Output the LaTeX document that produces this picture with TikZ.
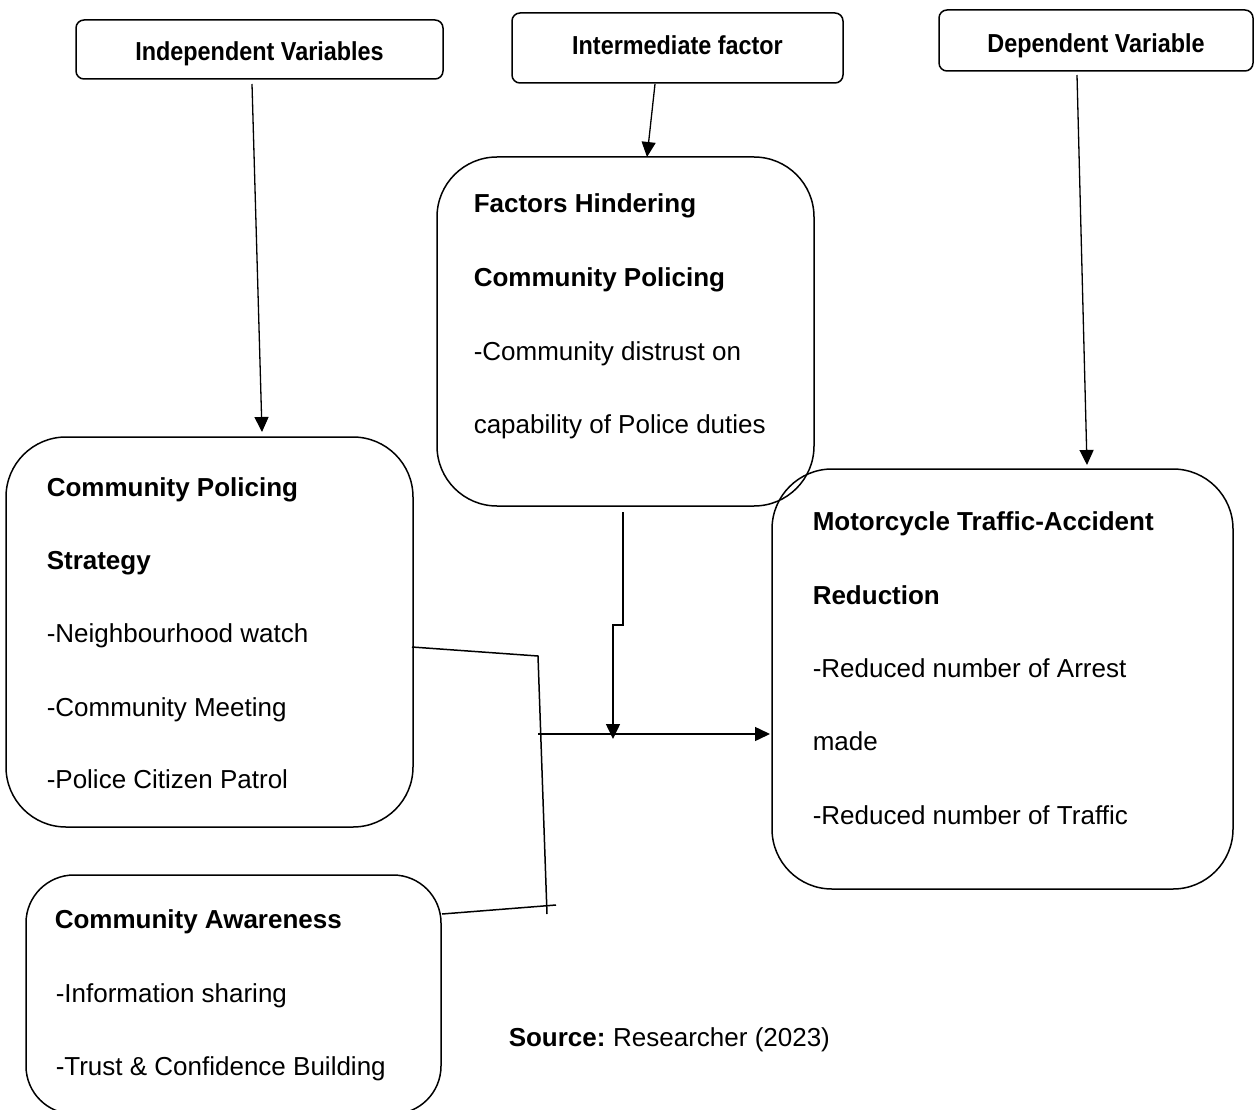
\documentclass[tikz,border=0pt]{standalone}
\usepackage{fontspec}
\setmainfont{Liberation Sans}
\usetikzlibrary{arrows.meta}
\begin{document}
\begin{tikzpicture}[x=1pt,y=-1pt,
  line width=1.5pt,
  titlebox/.style={draw,rounded corners=8pt},
  bigbox/.style={draw,rounded corners=60pt},
  txt/.style={anchor=base west,inner sep=0pt,font=\fontsize{26}{31}\selectfont},
  btxt/.style={txt,font=\fontsize{26}{31}\selectfont\bfseries},
  ttl/.style={anchor=base,inner sep=0pt,font=\fontsize{26}{31}\selectfont\bfseries},
  arr/.style={-{Triangle[length=15pt,width=14pt]}},
  thin/.style={line width=1.3pt}]
\useasboundingbox (0,0) rectangle (1255,1110);
\clip (0,0) rectangle (1255,1110);
\fill[white] (0,0) rectangle (1255,1110);

% title boxes
\draw[titlebox] (76,20) rectangle (443,79);
\node[ttl] (tind) at (259.5,61) {\scalebox{0.9}[1]{Independent Variables}};
\draw[titlebox] (512,13) rectangle (843,83);
\node[ttl] (tint) at (677.5,55) {\scalebox{0.9}[1]{Intermediate factor}};
\draw[titlebox] (939,10) rectangle (1253,71);
\node[ttl] (tdep) at (1096,53) {\scalebox{0.9}[1]{Dependent Variable}};

% big boxes
\draw[bigbox] (437,157) rectangle (814,506);
\draw[bigbox] (6,437) rectangle (413,827);
\draw[bigbox] (772,469) rectangle (1233,889);
\draw[draw,rounded corners=48pt] (26,875) rectangle (441,1114);

% factors text
\node[btxt] (f1) at (473,213) {Factors Hindering};
\node[btxt] (f2) at (473,286) {Community Policing};
\node[txt] (f3) at (473,360) {-Community distrust on};
\node[txt] (f4) at (473,433) {capability of Police duties};

% strategy text
\node[btxt] (s1) at (46,496) {Community Policing};
\node[btxt] (s2) at (46,569) {Strategy};
\node[txt] (s3) at (46,642) {-Neighbourhood watch};
\node[txt] (s4) at (46,716) {-Community Meeting};
\node[txt] (s5) at (46,788) {-Police Citizen Patrol};

% motorcycle text
\node[btxt] (m1) at (812,530) {Motorcycle Traffic-Accident};
\node[btxt] (m2) at (812,604) {Reduction};
\node[txt] (m3) at (812,677) {-Reduced number of Arrest};
\node[txt] (m4) at (812,750) {made};
\node[txt] (m5) at (812,824) {-Reduced number of Traffic};

% awareness text
\node[btxt] (a1) at (54,928) {Community Awareness};
\node[txt] (a2) at (55,1002) {-Information sharing};
\node[txt] (a3) at (55,1075) {-Trust \& Confidence Building};

% source
\node[txt] (src) at (508,1046) {\textbf{Source:}\hspace{-2pt} Researcher (2023)};

% connector points
\coordinate (p1) at (252,84);
\coordinate (p1e) at (262,432);
\coordinate (p2) at (655,84);
\coordinate (p2e) at (647,157);
\coordinate (p3) at (1077,75);
\coordinate (p3e) at (1087,465);
\coordinate (q1) at (623,512);
\coordinate (q2) at (623,625);
\coordinate (q3) at (613,625);
\coordinate (q4) at (613,739);
\coordinate (h1) at (538,734);
\coordinate (h2) at (770,734);
\coordinate (r1) at (412,647);
\coordinate (r2) at (538,656);
\coordinate (r3) at (547,914);
\coordinate (w1) at (442,914);
\coordinate (w2) at (556,905);

\draw[arr,thin] (p1) -- (p1e);
\draw[arr,thin] (p2) -- (p2e);
\draw[arr,thin] (p3) -- (p3e);
\draw[arr] (q1) -- (q2) -- (q3) -- (q4);
\draw[arr] (h1) -- (h2);
\draw (r1) -- (r2) -- (r3);
\draw (w1) -- (w2);
\end{tikzpicture}
\end{document}
